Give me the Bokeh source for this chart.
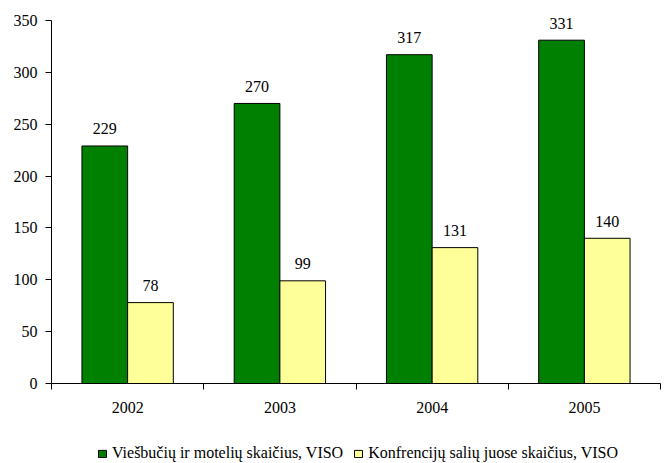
import numpy as np
from bokeh.plotting import figure
from bokeh.layouts import column
from bokeh.models import Range1d, FixedTicker, Legend, LegendItem
from bokeh.core.properties import value
from bokeh.embed import file_html
from bokeh.resources import INLINE

years = ["2002", "2003", "2004", "2005"]
hotels = [229, 270, 317, 331]
halls = [78, 99, 131, 140]
series_names = ["Viešbučių ir motelių skaičius, VISO", "Konfrencijų salių juose skaičius, VISO"]
y_ticks = [0, 50, 100, 150, 200, 250, 300, 350]
colors = ["#008000", "#FFFF99"]

FONT = "Liberation Serif"
FS = "16px"

centers = np.arange(len(years)) + 0.5

p = figure(width=664, height=418, x_range=Range1d(0, len(years)), y_range=Range1d(0, 365.4),
           output_backend="svg", toolbar_location=None,
           min_border_left=51, min_border_right=4, min_border_top=4, min_border_bottom=35)
p.outline_line_color = None
p.xgrid.visible = False
p.ygrid.visible = False

p.vbar(x=centers - 0.15, top=hotels, width=0.3, fill_color=colors[0], line_color="black", line_width=1)
p.vbar(x=centers + 0.15, top=halls, width=0.3, fill_color=colors[1], line_color="black", line_width=1)

p.text(x=centers - 0.15, y=hotels, text=[str(v) for v in hotels], text_align="center",
       text_baseline="alphabetic", y_offset=-17, text_font=value(FONT), text_font_size=FS, text_color="black")
p.text(x=centers + 0.15, y=halls, text=[str(v) for v in halls], text_align="center",
       text_baseline="alphabetic", y_offset=-17, text_font=value(FONT), text_font_size=FS, text_color="black")

# x axis
xa = p.xaxis[0]
xa.ticker = FixedTicker(ticks=list(centers), minor_ticks=list(range(len(years) + 1)))
xa.major_label_overrides = {float(c): yr for c, yr in zip(centers, years)}
xa.major_tick_out = 0
xa.major_tick_in = 0
xa.minor_tick_out = 6
xa.minor_tick_in = 0
xa.major_label_standoff = 12
xa.axis_line_color = "black"
xa.minor_tick_line_color = "black"
xa.major_label_text_font = FONT
xa.major_label_text_font_size = FS
xa.major_label_text_color = "black"

ya = p.yaxis[0]
ya.ticker = FixedTicker(ticks=y_ticks)
ya.bounds = (0, 350)
ya.major_tick_out = 6
ya.major_tick_in = 0
ya.minor_tick_line_color = None
ya.major_label_standoff = 8
ya.axis_line_color = "black"
ya.major_tick_line_color = "black"
ya.major_label_text_font = FONT
ya.major_label_text_font_size = FS
ya.major_label_text_color = "black"

# legend strip (swatch renderers are degenerate and outside the visible range)
lf = figure(width=664, height=45, x_range=Range1d(0, 1), y_range=Range1d(0, 1),
            output_backend="svg", toolbar_location=None, x_axis_type=None, y_axis_type=None,
            min_border_left=0, min_border_right=0, min_border_top=0, min_border_bottom=0)
lf.outline_line_color = None
lf.xgrid.visible = False
lf.ygrid.visible = False
r1 = lf.vbar(x=[-10], bottom=[-10], top=[-10], width=0, fill_color=colors[0], line_color="black", line_width=1)
r2 = lf.vbar(x=[-10], bottom=[-10], top=[-10], width=0, fill_color=colors[1], line_color="black", line_width=1)
legend = Legend(items=[LegendItem(label=series_names[0], renderers=[r1]),
                       LegendItem(label=series_names[1], renderers=[r2])],
                orientation="horizontal", location=(46, 1),
                glyph_width=10, glyph_height=9, label_standoff=5, spacing=10,
                label_text_font=FONT, label_text_font_size=FS, label_text_color="black",
                border_line_color=None, background_fill_alpha=0, padding=0, margin=0)
lf.add_layout(legend, "center")

layout = column(p, lf, spacing=0)
open("out.html", "w").write(file_html(layout, INLINE))
